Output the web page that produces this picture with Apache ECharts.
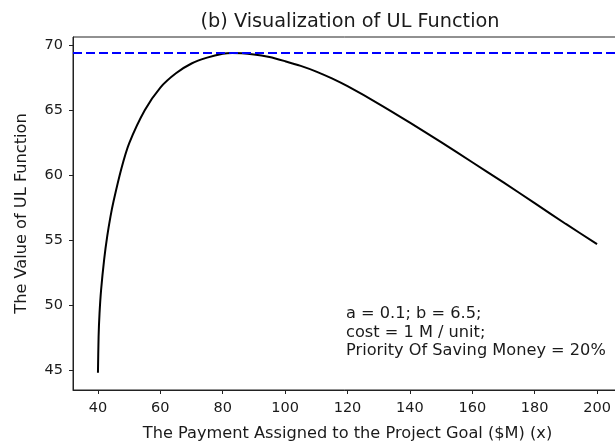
<!DOCTYPE html>
<html>
<head>
<meta charset="utf-8">
<script src="https://cdn.jsdelivr.net/npm/echarts@6/dist/echarts.min.js"></script>
<style>
  html, body { margin: 0; padding: 0; background: #fff; }
  #chart { width: 615px; height: 443px; }
</style>
</head>
<body>
<div id="chart"></div>
<script>
// Payment assigned to the project goal ($M)
const payment = [40, 40.2, 40.5, 41, 42, 43, 44, 45, 47.5, 50, 55, 60, 65, 70, 75, 80, 83, 90, 95, 100,
                 105, 110, 115, 120, 130, 140, 150, 160, 170, 180, 190, 200];
// Value of the UL function at each payment
const ulValue = [44.8, 47.55, 49.35, 51.15, 53.55, 55.35, 56.8, 58.0, 60.5, 62.45, 65.0, 66.75, 67.85, 68.6, 69.05, 69.35, 69.41, 69.3, 69.1, 68.78,
                 68.42, 67.98, 67.45, 66.85, 65.5, 64.05, 62.55, 61.0, 59.45, 57.85, 56.25, 54.7];
const xTicks = [40, 60, 80, 100, 120, 140, 160, 180, 200];
const yTicks = [45, 50, 55, 60, 65, 70];
const noteLines = ['a = 0.1; b = 6.5;', 'cost = 1 M / unit;', 'Priority Of Saving Money = 20%'];

const peak = Math.max(...ulValue);
const points = payment.map((x, i) => [x, ulValue[i]]);

const FONT = 'DejaVu Sans';
const INK = '#1a1a1a';
const chart = echarts.init(document.getElementById('chart'), null, { renderer: 'canvas' });

chart.setOption({
  animation: false,
  backgroundColor: '#fff',
  title: {
    text: '(b) Visualization of UL Function',
    left: 345, top: 7, textAlign: 'center',
    textStyle: { fontFamily: FONT, fontSize: 19.3, fontWeight: 'normal', color: INK }
  },
  grid: {
    left: 73, top: 37, width: 549, height: 353,
    outerBoundsMode: 'none',
    show: true, borderColor: '#222', borderWidth: 1, backgroundColor: 'transparent'
  },
  xAxis: {
    type: 'value', min: 32, max: 208,
    name: 'The Payment Assigned to the Project Goal ($M) (x)',
    nameLocation: 'middle', nameGap: 36,
    nameTextStyle: { fontFamily: FONT, fontSize: 16.2, color: INK },
    axisLine: { show: true, lineStyle: { color: '#222', width: 1 } },
    axisTick: { show: true, inside: false, length: 4, lineStyle: { color: '#222' }, customValues: xTicks },
    axisLabel: { fontFamily: FONT, fontSize: 14.5, color: INK, margin: 11, customValues: xTicks },
    splitLine: { show: false }
  },
  yAxis: {
    type: 'value', min: 43.47, max: 70.64,
    name: 'The Value of UL Function',
    nameLocation: 'middle', nameGap: 43,
    nameTextStyle: { fontFamily: FONT, fontSize: 16.2, color: INK },
    axisLine: { show: true, lineStyle: { color: '#222', width: 1 } },
    axisTick: { show: true, inside: false, length: 4, lineStyle: { color: '#222' }, customValues: yTicks },
    axisLabel: { fontFamily: FONT, fontSize: 14.5, color: INK, margin: 10, customValues: yTicks },
    splitLine: { show: false }
  },
  graphic: [{
    type: 'text',
    left: 346, top: 305,
    style: {
      text: noteLines.join('\n'),
      fontFamily: FONT, fontSize: 16.2, lineHeight: 18.5, fill: INK
    }
  }],
  series: [{
    type: 'line',
    data: points,
    showSymbol: false,
    smooth: 0.25,
    lineStyle: { color: '#000', width: 2 },
    markLine: {
      silent: true,
      symbol: 'none',
      label: { show: false },
      lineStyle: { color: '#0000ff', width: 2, type: [9, 4] },
      data: [{ yAxis: peak }]
    }
  }]
});
</script>
</body>
</html>
